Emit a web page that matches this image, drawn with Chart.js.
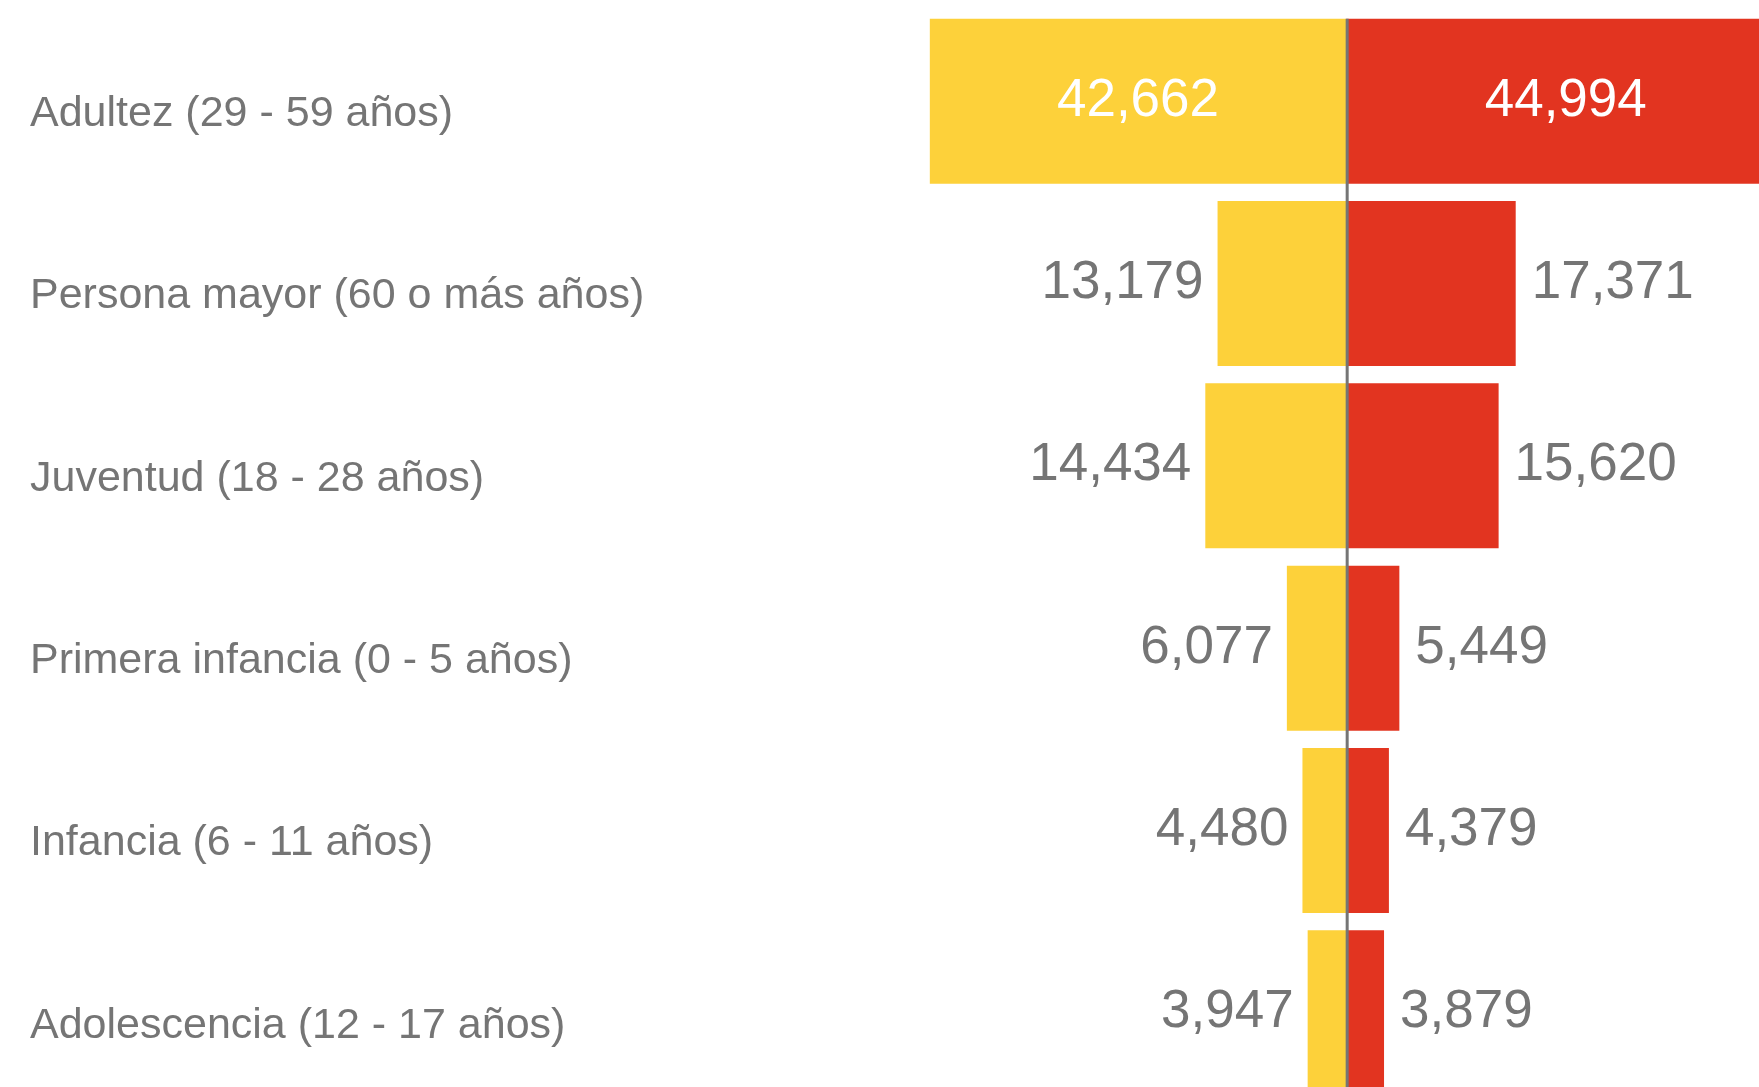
<!DOCTYPE html>
<html>
<head>
<meta charset="utf-8">
<script src="https://cdn.jsdelivr.net/npm/chart.js@4"></script>
<style>
  html, body { margin: 0; padding: 0; background: #ffffff; overflow: hidden; }
  #wrap { width: 1759px; height: 1087px; overflow: hidden; position: relative; }
  canvas { display: block; }
</style>
</head>
<body>
<div id="wrap"><canvas id="c" width="1759" height="1104"></canvas></div>
<script>
const categories = [
  'Adultez (29 - 59 años)',
  'Persona mayor (60 o más años)',
  'Juventud (18 - 28 años)',
  'Primera infancia (0 - 5 años)',
  'Infancia (6 - 11 años)',
  'Adolescencia (12 - 17 años)'
];
const leftValues = [42662, 13179, 14434, 6077, 4480, 3947];
const rightValues = [44994, 17371, 15620, 5449, 4379, 3879];

const YELLOW = '#FDD13A';
const RED = '#E23420';
const GREY = '#757575';
const FONT = '"Liberation Sans", Arial, Helvetica, sans-serif';

const fmt = v => Math.abs(v).toLocaleString('en-US');

const labelPlugin = {
  id: 'barLabels',
  afterDatasetsDraw(chart) {
    const ctx = chart.ctx;
    ctx.save();
    ctx.font = '53px ' + FONT;
    ctx.textBaseline = 'middle';
    chart.data.datasets.forEach((ds, di) => {
      const meta = chart.getDatasetMeta(di);
      meta.data.forEach((el, i) => {
        const v = ds.data[i];
        const y = el.y;
        if (Math.abs(v) > 30000) {
          ctx.fillStyle = '#ffffff';
          ctx.textAlign = 'center';
          ctx.fillText(fmt(v), (el.x + el.base) / 2, y);
        } else if (v < 0) {
          ctx.fillStyle = GREY;
          ctx.textAlign = 'right';
          ctx.fillText(fmt(v), el.x - 14, y);
        } else {
          ctx.fillStyle = GREY;
          ctx.textAlign = 'left';
          ctx.fillText(fmt(v), el.x + 16, y);
        }
      });
    });
    ctx.restore();
  }
};

const centerLinePlugin = {
  id: 'centerLine',
  afterDatasetsDraw(chart) {
    const ctx = chart.ctx;
    const x = chart.scales.x.getPixelForValue(0);
    const first = chart.getDatasetMeta(0).data[0];
    const top = first.y - first.height / 2;
    ctx.save();
    ctx.strokeStyle = GREY;
    ctx.lineWidth = 3;
    ctx.beginPath();
    ctx.moveTo(x + 1, top);
    ctx.lineTo(x + 1, chart.height);
    ctx.stroke();
    ctx.restore();
  }
};

new Chart(document.getElementById('c'), {
  type: 'bar',
  data: {
    labels: categories,
    datasets: [
      { label: 'Izquierda', data: leftValues.map(v => -v), backgroundColor: YELLOW, borderWidth: 0,
        categoryPercentage: 1, barPercentage: 0.905 },
      { label: 'Derecha', data: rightValues, backgroundColor: RED, borderWidth: 0,
        categoryPercentage: 1, barPercentage: 0.905 }
    ]
  },
  options: {
    indexAxis: 'y',
    responsive: false,
    animation: false,
    events: [],
    layout: { padding: { left: 30, right: 0, top: 10, bottom: 0 } },
    plugins: { legend: { display: false }, tooltip: { enabled: false } },
    scales: {
      x: {
        display: false,
        stacked: true,
        min: -45000,
        max: 42300
      },
      y: {
        stacked: true,
        grid: { display: false },
        border: { display: false },
        ticks: {
          crossAlign: 'far',
          color: GREY,
          padding: 0,
          labelOffset: 13,
          font: { family: FONT, size: 43 }
        },
        afterFit(scale) {
          scale.width = 877;
          scale.paddingTop = 0;
          scale.paddingBottom = 0;
        }
      }
    }
  },
  plugins: [labelPlugin, centerLinePlugin]
});
</script>
</body>
</html>
